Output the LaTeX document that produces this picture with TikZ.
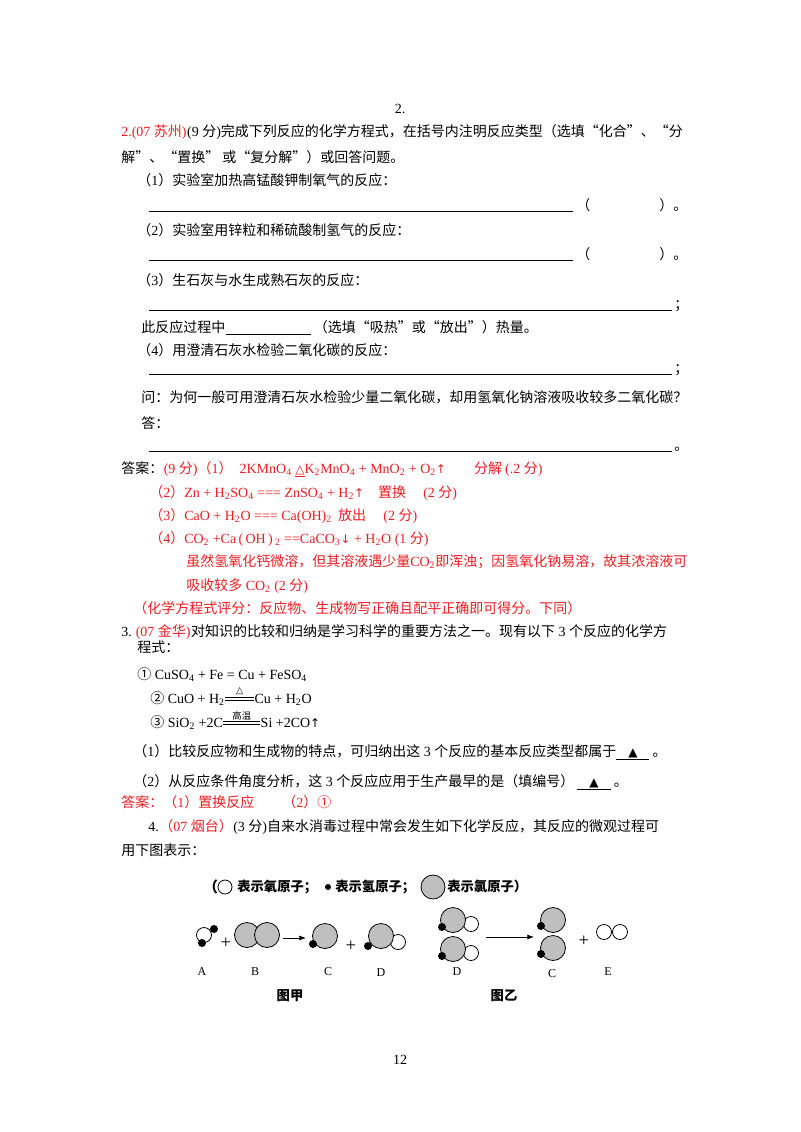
\documentclass[tikz,border=0pt]{standalone}
\usepackage{fontspec}
\usetikzlibrary{calc,arrows.meta}
\setmainfont{Noto Sans CJK SC}
\newfontfamily\tmf{Liberation Serif}
\newfontfamily\djv{DejaVu Sans}
\newcommand{\T}[1]{{\tmf #1}}
\newcommand{\sbs}[1]{\textsubscript{#1}}
\definecolor{ansred}{RGB}{235,30,35}
\begin{document}
\begin{tikzpicture}[x=0.75pt,y=-0.75pt,font=\fontsize{10.5}{12}\selectfont,
  t/.style={anchor=base west,inner sep=0pt},
  r/.style={t,text=ansred},
  ul/.style={line width=0.7pt},
  pls/.style={anchor=center,inner sep=0,font=\tmf\fontsize{14}{14}\selectfont},
  wat/.style={draw,fill=white,line width=0.6pt},
  gat/.style={draw,fill=black!25,line width=0.6pt},
  hat/.style={fill=black}]
\useasboundingbox (0,0) rectangle (800,1132);
\node[anchor=base,inner sep=0] (n2) at (400,113) {\T{2.}};
\node[r] (q2) at (121,136) {\T{2.(07 }苏州\T{)}};
\node[t] (q2b) at (q2.base east) {\T{(9 }分\T{)}完成下列反应的化学方程式，在括号内注明反应类型（选填“化合”、“分};
\node[t] (l2) at (121,162) {解”、“置换” 或“复分解”）或回答问题。};
\node[t] (p1) at (137,185) {（\T{1}）实验室加热高锰酸钾制氧气的反应：};
\coordinate (u1a) at (149,211); \coordinate (u1b) at (573,211);
\draw[ul] (u1a) -- (u1b);
\node[t] (b1) at (576,210) {（};
\node[t] (b1r) at (659,210) {）。};
\node[t] (p2) at (137,235) {（\T{2}）实验室用锌粒和稀硫酸制氢气的反应：};
\coordinate (u2a) at (149,260); \coordinate (u2b) at (573,260);
\draw[ul] (u2a) -- (u2b);
\node[t] (b2) at (576,259) {（};
\node[t] (b2r) at (659,259) {）。};
\node[t] (p3) at (137,285) {（\T{3}）生石灰与水生成熟石灰的反应：};
\coordinate (u3a) at (149,310); \coordinate (u3b) at (672,310);
\draw[ul] (u3a) -- (u3b);
\node[t] (s3) at (674,309) {；};
\node[t] (p3b) at (141,332) {此反应过程中};
\coordinate (u4a) at ([yshift=-1.5pt]p3b.base east); \coordinate (u4b) at ([xshift=64pt,yshift=-1.5pt]p3b.base east);
\draw[ul] (u4a) -- (u4b);
\node[t] (p3c) at ([xshift=2pt]u4b |- p3b.base) {（选填“吸热”或“放出”）热量。};
\node[t] (p4) at (137,355) {（\T{4}）用澄清石灰水检验二氧化碳的反应：};
\coordinate (u5a) at (149,374); \coordinate (u5b) at (672,374);
\draw[ul] (u5a) -- (u5b);
\node[t] (s5) at (674,373) {；};
\node[t] (q4) at (141,402) {问：为何一般可用澄清石灰水检验少量二氧化碳，却用氢氧化钠溶液吸收较多二氧化碳？};
\node[t] (an) at (141,428) {答：};
\coordinate (u6a) at (149,451); \coordinate (u6b) at (672,451);
\draw[ul] (u6a) -- (u6b);
\node[t] (s6) at (674,450) {。};
% answers
\node[t] (a0) at (121,473) {答案：};
\node[r] (a1) at (a0.base east) {\T{(9 }分\T{)}（\T{1}）\T{\ \ 2KMnO\sbs{4} \underline{\djv\small △}K\sbs{2}MnO\sbs{4} + MnO\sbs{2} + O\sbs{2}}{\djv\small↑}\quad\quad 分解 \T{(.2 }分\T{)}};
\node[r] (a2) at (149,497) {（\T{2}）\T{Zn + H\sbs{2}SO\sbs{4} === ZnSO\sbs{4} + H\sbs{2}}{\djv\small↑}\quad 置换 \quad\T{(2 }分\T{)}};
\node[r] (a3) at (149,520) {（\T{3}）\T{CaO + H\sbs{2}O === Ca(OH)\sbs{2}} \ 放出 \quad\T{(2 }分\T{)}};
\node[r] (a4) at (149,543) {（\T{4}）\T{CO\sbs{2} +Ca\,(\,OH\,)\,\sbs{2} ==CaCO\sbs{3}}{\djv\small↓}\T{ + H\sbs{2}O (1 }分\T{)}};
\node[r] (a5) at (186,566) {虽然氢氧化钙微溶，但其溶液遇少量\T{CO\sbs{2}}即浑浊；因氢氧化钠易溶，故其浓溶液可};
\node[r] (a6) at (186,590) {吸收较多\T{ CO\sbs{2} (2 }分\T{)}};
\node[r] (a7) at (133,613) {（化学方程式评分：反应物、生成物写正确且配平正确即可得分。下同）};
% question 3
\node[t] (q3) at (121,636) {\T{3.\ \ }};
\node[r] (q3r) at (q3.base east) {\T{(07 }金华\T{)}};
\node[t] (q3b) at (q3r.base east) {对知识的比较和归纳是学习科学的重要方法之一。现有以下\T{ 3 }个反应的化学方};
\node[t] (q3c) at (137,652) {程式：};
\node[t] (e1) at (137,679) {①\T{ CuSO\sbs{4} + Fe = Cu + FeSO\sbs{4}}};
\node[t] (e2) at (150,703) {②\T{ CuO + H\sbs{2} }};
\node[t] (e2b) at ([xshift=22pt]e2.base east) {\T{Cu + H\sbs{2}O}};
\draw[line width=0.5pt] ([yshift=2.2pt]e2.base east) -- ([yshift=2.2pt]e2b.base west);
\draw[line width=0.5pt] ([yshift=4pt]e2.base east) -- ([yshift=4pt]e2b.base west);
\node[anchor=base,inner sep=0,font=\djv\scriptsize] (d2) at ($([yshift=7pt]e2.base east)!0.5!([yshift=7pt]e2b.base west)$) {△};
\node[t] (e3) at (150,727) {③\T{ SiO\sbs{2} +2C}};
\node[t] (e3b) at ([xshift=28pt]e3.base east) {\T{Si +2CO}{\djv\small↑}};
\draw[line width=0.5pt] ([yshift=2.2pt]e3.base east) -- ([yshift=2.2pt]e3b.base west);
\draw[line width=0.5pt] ([yshift=4pt]e3.base east) -- ([yshift=4pt]e3b.base west);
\node[anchor=base,inner sep=0,font=\fontsize{7}{8}\selectfont] (d3) at ($([yshift=6pt]e3.base east)!0.5!([yshift=6pt]e3b.base west)$) {高温};
\node[t] (c1) at (133,756) {（\T{1}）比较反应物和生成物的特点，可归纳出这\T{ 3 }个反应的基本反应类型都属于\underline{\hspace{9pt}{\djv\small▲}\hspace{9pt}}\ 。};
\node[t] (c2) at (133,786) {（\T{2}）从反应条件角度分析，这\T{ 3 }个反应应用于生产最早的是（填编号）\ \underline{\hspace{9pt}{\djv\small▲}\hspace{9pt}}\ 。};
\node[r] (ans3) at (121,807) {答案：（\T{1}）置换反应\qquad（\T{2}）①};
\node[t] (q4a) at (148,831) {\T{4.}\ };
\node[r] (q4r) at (q4a.base east) {（\T{07 }烟台）};
\node[t] (q4b) at (q4r.base east) {\T{(3 }分\T{)}自来水消毒过程中常会发生如下化学反应，其反应的微观过程可};
\node[t] (q4c) at (121,855) {用下图表示：};
% legend
\node[t,font=\fontsize{11}{12}\selectfont\bfseries] (lg1) at (203,892) {（};
\node[wat,circle,minimum size=14*0.75pt,inner sep=0] (lw) at (225,887) {};
\node[t,font=\fontsize{10}{11}\selectfont\bfseries] (lg2) at (237,891) {表示氧原子；};
\node[hat,circle,minimum size=6*0.75pt,inner sep=0] (lh) at (328,887) {};
\node[t,font=\fontsize{10}{11}\selectfont\bfseries] (lg3) at (335,891) {表示氢原子；};
\node[gat,circle,minimum size=24*0.75pt,inner sep=0] (lc) at (433,887) {};
\node[t,font=\fontsize{10}{11}\selectfont\bfseries] (lg4) at (447,891) {表示氯原子）};
% A
\node[wat,circle,minimum size=15*0.75pt,inner sep=0] (A1) at (204,935) {};
\node[hat,circle,minimum size=8*0.75pt,inner sep=0] (A2) at (214,929) {};
\node[hat,circle,minimum size=8*0.75pt,inner sep=0] (A3) at (202,943) {};
\node[pls] (pl1) at (226,943) {+};
% B
\node[gat,circle,minimum size=25*0.75pt,inner sep=0] (B1) at (247,935) {};
\node[gat,circle,minimum size=25*0.75pt,inner sep=0] (B2) at (267,935) {};
\coordinate (ar1a) at (283,938); \coordinate (ar1b) at (306,938);
\draw[-{Latex[length=5pt]},line width=0.6pt] (ar1a) -- (ar1b);
% C
\node[gat,circle,minimum size=25*0.75pt,inner sep=0] (C1) at (325,936) {};
\node[hat,circle,minimum size=8*0.75pt,inner sep=0] (C2) at (313,944) {};
\node[pls] (pl2) at (351,946) {+};
% D
\node[wat,circle,minimum size=15*0.75pt,inner sep=0] (D2) at (398,942) {};
\node[gat,circle,minimum size=25*0.75pt,inner sep=0] (D1) at (381,936) {};
\node[hat,circle,minimum size=8*0.75pt,inner sep=0] (D3) at (368,946) {};
% D x2
\foreach \yy/\nm in {920/Da,949/Db}{
\node[wat,circle,minimum size=15*0.75pt,inner sep=0] (\nm w) at (471,\yy+4) {};
\node[gat,circle,minimum size=25*0.75pt,inner sep=0] (\nm g) at (453,\yy) {};
\node[hat,circle,minimum size=8*0.75pt,inner sep=0] (\nm h) at (442,\yy+7) {};
}
\coordinate (ar2a) at (486,937); \coordinate (ar2b) at (534,937);
\draw[-{Latex[length=5pt]},line width=0.6pt] (ar2a) -- (ar2b);
\foreach \yy/\nm in {920/Ca,948/Cb}{
\node[gat,circle,minimum size=25*0.75pt,inner sep=0] (\nm g) at (553,\yy) {};
\node[hat,circle,minimum size=8*0.75pt,inner sep=0] (\nm h) at (541,\yy+6) {};
}
\node[pls] (pl3) at (584,941) {+};
\node[wat,circle,minimum size=15*0.75pt,inner sep=0] (E1) at (604,932) {};
\node[wat,circle,minimum size=15*0.75pt,inner sep=0] (E2) at (620,932) {};
% labels
\foreach \xx/\yy/\lab/\nm in {202/972/A/LA,255/972/B/LB,328/972/C/LC,381/973/D/LD,457/972/D/LD2,552/974/C/LC2,608/972/E/LE}
  \node[anchor=center,inner sep=0,font=\tmf\fontsize{9}{10}\selectfont] (\nm) at (\xx,\yy) {\lab};
\node[anchor=center,inner sep=0,font=\fontsize{10}{11}\selectfont\bfseries] (fj) at (290,996) {图甲};
\node[anchor=center,inner sep=0,font=\fontsize{10}{11}\selectfont\bfseries] (fy) at (504,996) {图乙};
\node[anchor=center,inner sep=0] (pg) at (400,1060) {\T{12}};
\end{tikzpicture}
\end{document}
